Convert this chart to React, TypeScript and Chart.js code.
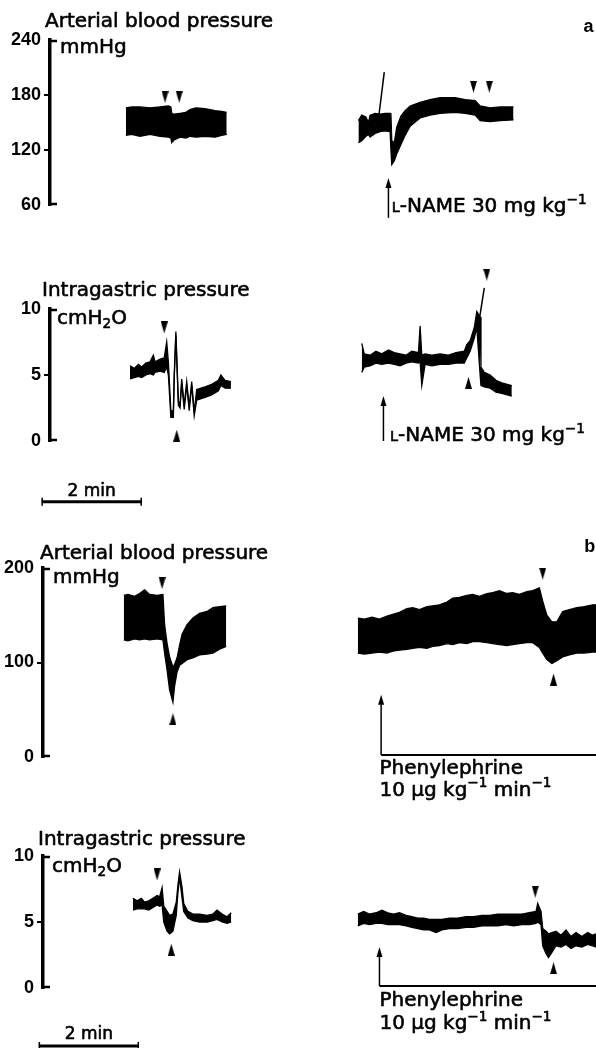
import React, { useEffect, useRef } from "react";
import { Chart, registerables } from "chart.js";

Chart.register(...registerables);

const TEXT_FONT = "'DejaVu Sans', 'Liberation Sans', sans-serif";
const TICK_FONT = "'Liberation Sans', Arial, sans-serif";

// ================= Panel a : arterial blood pressure (mmHg) vs time (s) =================
const A_BP_TICKS = [60, 120, 180, 240];
const A_BP_L_T = [91, 98, 108, 120, 132, 142, 145, 146, 149, 156, 163, 168, 175, 186, 198, 206, 212];
const A_BP_L_HI = [166, 167, 167, 166, 167, 168, 167, 160, 159, 160, 161, 164, 166, 165, 163, 162, 161];
const A_BP_L_LO = [136, 137, 135, 137, 135, 134, 133, 128, 131, 134, 133, 135, 134, 135, 134, 136, 137];
const A_BP_R_T = [370, 374, 379, 382, 384, 390, 396, 402, 408, 409, 410, 413, 416, 421, 426, 432, 444, 456, 468, 486, 498, 510, 516, 528, 540, 556];
const A_BP_R_HI = [152, 158, 156, 150, 158, 160, 159, 160, 160, 158, 130, 128, 145, 157, 163, 168, 172, 175, 177, 177, 175, 174, 168, 166, 167, 167];
const A_BP_R_LO = [128, 130, 135, 137, 134, 138, 140, 141, 140, 120, 104, 108, 116, 126, 136, 146, 155, 158, 160, 161, 160, 158, 152, 151, 152, 153];
const A_BP_SPIKE_T = [392, 401];
const A_BP_SPIKE_V = [139, 205];
const A_BP_DOWN_T = [138, 155, 508, 527];
const A_BP_DOWN_V = [178, 178, 189, 189];

// ================= Panel a : intragastric pressure (cmH2O) =================
const A_IG_TICKS = [0, 5, 10];
const A_IG_L_T = [96, 101, 106, 110, 115, 120, 124, 126, 132, 137, 140, 142, 145, 148, 149, 151, 154, 156, 158, 161, 164, 167, 170, 173, 176, 186, 194, 202, 205, 210, 217];
const A_IG_L_HI = [5.7, 5.5, 5.8, 5.6, 5.9, 6.0, 6.5, 6.0, 6.2, 6.3, 7.5, 6.0, 2.3, 2.3, 5.0, 8.3, 3.0, 2.8, 4.7, 2.7, 4.5, 2.6, 4.5, 2.2, 3.9, 4.1, 4.3, 4.6, 5.0, 4.6, 4.5];
const A_IG_L_LO = [4.7, 4.8, 4.9, 4.8, 5.0, 5.1, 5.0, 5.2, 5.3, 5.2, 5.6, 5.0, 1.8, 1.8, 4.7, 8.0, 2.7, 2.5, 4.4, 2.4, 4.2, 2.3, 4.2, 1.9, 3.1, 3.3, 3.5, 3.8, 4.2, 4.0, 4.0];
const A_IG_R_T = [374, 377, 384, 391, 398, 406, 413, 420, 427, 434, 442, 444, 446, 450, 458, 468, 478, 487, 497, 500, 504, 509, 512, 516, 517, 521, 528, 535, 542, 554];
const A_IG_R_HI = [7.4, 6.6, 6.5, 6.8, 6.6, 6.9, 6.7, 6.6, 6.5, 6.8, 6.7, 8.7, 6.5, 6.6, 6.5, 6.6, 6.5, 6.7, 6.8, 7.3, 7.6, 8.6, 9.8, 9.4, 5.6, 5.2, 5.0, 4.6, 4.4, 4.2];
const A_IG_R_LO = [5.2, 5.6, 5.7, 5.9, 5.8, 5.9, 5.8, 5.7, 5.9, 6.0, 5.9, 6.0, 4.2, 5.8, 5.7, 5.8, 5.8, 5.9, 5.9, 6.3, 6.8, 7.8, 8.6, 5.0, 4.2, 4.1, 4.0, 3.7, 3.6, 3.4];
const A_IG_SPIKE_T = [514, 521];
const A_IG_SPIKE_V = [8.8, 11.6];
const A_IG_DOWN_T = [137, 524];
const A_IG_DOWN_V = [8.6, 12.6];
const A_IG_UP_T = [152, 502];
const A_IG_UP_V = [0.4, 4.4];

// ================= Panel b : arterial blood pressure (mmHg) =================
const B_BP_TICKS = [0, 100, 200];
const B_BP_L_T = [97, 102, 110, 116, 122, 128, 137, 144, 146, 149, 152, 156, 158, 161, 164, 167, 173, 180, 188, 197, 204, 212, 220];
const B_BP_L_HI = [171, 172, 170, 173, 177, 172, 171, 172, 140, 120, 106, 95, 98, 105, 118, 130, 140, 147, 152, 154, 158, 159, 160];
const B_BP_L_LO = [124, 123, 125, 124, 125, 124, 125, 124, 110, 92, 71, 58, 75, 90, 97, 99, 103, 105, 108, 109, 110, 114, 117];
const B_BP_R_T = [378, 386, 395, 404, 413, 420, 428, 437, 444, 452, 461, 468, 476, 485, 492, 500, 509, 516, 524, 533, 540, 548, 557, 564, 572, 581, 588, 596, 600, 605, 611, 617, 624, 632, 641, 650, 660, 664];
const B_BP_R_HI = [147, 146, 148, 146, 149, 151, 153, 157, 158, 156, 159, 160, 161, 164, 168, 169, 171, 172, 170, 173, 174, 176, 173, 174, 172, 175, 176, 179, 165, 150, 143, 143, 154, 156, 158, 159, 161, 161];
const B_BP_R_LO = [110, 109, 110, 111, 110, 112, 113, 114, 115, 116, 115, 117, 118, 120, 119, 121, 120, 122, 122, 121, 120, 119, 118, 119, 120, 121, 121, 116, 110, 103, 99, 102, 106, 108, 110, 110, 111, 111];
const B_BP_DOWN_T = [143, 600];
const B_BP_DOWN_V = [184, 194];
const B_BP_UP_T = [156, 613];
const B_BP_UP_V = [40, 82];

// ================= Panel b : intragastric pressure (cmH2O) =================
const B_IG_TICKS = [0, 5, 10];
const B_IG_L_T = [108, 113, 118, 122, 127, 132, 137, 140, 143, 145, 149, 152, 156, 160, 162, 164, 167, 169, 174, 180, 188, 197, 204, 209, 215, 221, 226];
const B_IG_L_HI = [6.8, 6.6, 6.8, 6.5, 6.6, 6.8, 7.0, 6.9, 7.6, 6.2, 5.8, 5.5, 5.6, 6.5, 7.8, 8.8, 7.6, 6.4, 5.8, 5.6, 5.6, 5.5, 5.6, 5.9, 5.6, 5.4, 5.7];
const B_IG_L_LO = [5.9, 6.0, 6.0, 6.0, 5.9, 6.1, 6.3, 6.2, 6.3, 5.0, 4.3, 4.1, 4.3, 5.5, 7.2, 8.4, 6.8, 5.8, 5.3, 5.1, 5.0, 5.0, 5.1, 5.2, 5.0, 4.9, 5.0];
const B_IG_R_T = [378, 385, 392, 400, 407, 414, 421, 428, 436, 443, 450, 457, 464, 472, 479, 488, 498, 508, 517, 527, 536, 546, 556, 565, 575, 584, 592, 594, 598, 600, 604, 607, 611, 616, 622, 628, 634, 640, 647, 654, 660, 664];
const B_IG_R_HI = [5.6, 5.8, 5.6, 5.7, 5.9, 5.7, 5.6, 5.7, 5.5, 5.4, 5.3, 5.3, 5.2, 5.2, 5.2, 5.3, 5.3, 5.4, 5.4, 5.5, 5.5, 5.6, 5.6, 5.6, 5.6, 5.7, 5.8, 6.4, 5.8, 4.5, 4.3, 4.1, 4.2, 4.3, 4.0, 4.4, 3.9, 4.2, 3.9, 4.2, 4.0, 4.1];
const B_IG_R_LO = [4.7, 4.9, 4.8, 4.9, 4.9, 4.8, 4.8, 4.8, 4.7, 4.6, 4.5, 4.4, 4.4, 4.2, 4.4, 4.5, 4.5, 4.6, 4.6, 4.7, 4.7, 4.7, 4.8, 4.7, 4.8, 4.8, 4.9, 5.0, 4.8, 3.2, 2.6, 2.3, 2.7, 3.2, 3.1, 3.3, 3.0, 3.2, 3.1, 3.3, 3.2, 3.1];
const B_IG_DOWN_T = [137, 591];
const B_IG_DOWN_V = [8.6, 7.3];
const B_IG_UP_T = [154, 613];
const B_IG_UP_V = [2.9, 1.5];

// injection markers [time s, arrow bottom value, arrow top value]
const A_BP_INJ = [406, 46, 89.5];
const A_IG_INJ = [400, 0, 3.4];
const B_BP_INJ = [406, 2, 66];
const B_IG_INJ = [404, 0.15, 3.1];
const INFUSION_END = 664;
const SCALE_BAR_SECONDS = 120;

type Run = { t: string; s?: number; dy?: number };
const LNAME: Run[] = [{ t: "L", s: 0.72 }, { t: "-NAME 30 mg kg" }, { t: "\u22121", s: 0.68, dy: -0.42 }];
const PHE1: Run[] = [{ t: "Phenylephrine" }];
const PHE2: Run[] = [{ t: "10 \u00b5g kg" }, { t: "\u22121", s: 0.68, dy: -0.42 }, { t: " min" }, { t: "\u22121", s: 0.68, dy: -0.42 }];
const MMHG: Run[] = [{ t: "mmHg" }];
const CMH2O: Run[] = [{ t: "cmH" }, { t: "2", s: 0.68, dy: 0.22 }, { t: "O" }];

interface Label { t: number; v: number; runs: Run[]; size?: number; bold?: boolean; family?: string; align?: "left" | "center" }
interface Panel {
  top: number; height: number; axisX: number; xMax: number; yMin: number; yMax: number; ticks: number[];
  padTop: number; padBottom: number;
  title: string; titleOff: [number, number]; unit: Run[]; unitOff: [number, number];
  bands: { t: number[]; hi: number[]; lo: number[] }[];
  strokes: { t: number[]; v: number[] }[];
  down: { t: number[]; v: number[] }; up: { t: number[]; v: number[] };
  inj: number[]; infusion: boolean;
  labels: Label[];
  bar?: { t0: number; v: number; textV: number };
}

const PANELS: Panel[] = [
  {
    top: 0, height: 245, axisX: 50, xMax: 655, yMin: 60, yMax: 240, ticks: A_BP_TICKS, padTop: 40, padBottom: 40,
    title: "Arterial blood pressure", titleOff: [-5, -13], unit: MMHG, unitOff: [10, 13],
    bands: [{ t: A_BP_L_T, hi: A_BP_L_HI, lo: A_BP_L_LO }, { t: A_BP_R_T, hi: A_BP_R_HI, lo: A_BP_R_LO }],
    strokes: [{ t: A_BP_SPIKE_T, v: A_BP_SPIKE_V }],
    down: { t: A_BP_DOWN_T, v: A_BP_DOWN_V }, up: { t: [], v: [] },
    inj: A_BP_INJ, infusion: false,
    labels: [{ t: 410, v: 52.4, runs: LNAME }, { t: 640, v: 248.7, runs: [{ t: "a" }], size: 18, bold: true, family: TICK_FONT }],
  },
  {
    top: 250, height: 260, axisX: 50, xMax: 655, yMin: 0, yMax: 10, ticks: A_IG_TICKS, padTop: 59, padBottom: 69,
    title: "Intragastric pressure", titleOff: [-8, -13], unit: CMH2O, unitOff: [7, 15],
    bands: [{ t: A_IG_L_T, hi: A_IG_L_HI, lo: A_IG_L_LO }, { t: A_IG_R_T, hi: A_IG_R_HI, lo: A_IG_R_LO }],
    strokes: [{ t: A_IG_SPIKE_T, v: A_IG_SPIKE_V }],
    down: { t: A_IG_DOWN_T, v: A_IG_DOWN_V }, up: { t: A_IG_UP_T, v: A_IG_UP_V },
    inj: A_IG_INJ, infusion: false,
    labels: [{ t: 408, v: 0.0, runs: LNAME }],
    bar: { t0: -10, v: -4.6, textV: -4.2 },
  },
  {
    top: 515, height: 290, axisX: 43, xMax: 664, yMin: 0, yMax: 200, ticks: B_BP_TICKS, padTop: 53, padBottom: 48,
    title: "Arterial blood pressure", titleOff: [-3, -9], unit: MMHG, unitOff: [10, 15],
    bands: [{ t: B_BP_L_T, hi: B_BP_L_HI, lo: B_BP_L_LO }, { t: B_BP_R_T, hi: B_BP_R_HI, lo: B_BP_R_LO }],
    strokes: [],
    down: { t: B_BP_DOWN_T, v: B_BP_DOWN_V }, up: { t: B_BP_UP_T, v: B_BP_UP_V },
    inj: B_BP_INJ, infusion: true,
    labels: [{ t: 404, v: -18, runs: PHE1 }, { t: 404, v: -41, runs: PHE2 }, { t: 650, v: 217, runs: [{ t: "b" }], size: 18, bold: true, family: TICK_FONT }],
  },
  {
    top: 805, height: 243, axisX: 43, xMax: 664, yMin: 0, yMax: 10, ticks: B_IG_TICKS, padTop: 51, padBottom: 60,
    title: "Intragastric pressure", titleOff: [-5, -11], unit: CMH2O, unitOff: [9, 16],
    bands: [{ t: B_IG_L_T, hi: B_IG_L_HI, lo: B_IG_L_LO }, { t: B_IG_R_T, hi: B_IG_R_HI, lo: B_IG_R_LO }],
    strokes: [],
    down: { t: B_IG_DOWN_T, v: B_IG_DOWN_V }, up: { t: B_IG_UP_T, v: B_IG_UP_V },
    inj: B_IG_INJ, infusion: true,
    labels: [{ t: 404, v: -1.4, runs: PHE1 }, { t: 404, v: -3.1, runs: PHE2 }],
    bar: { t0: -5, v: -4.4, textV: -3.9 },
  },
];

function drawRuns(ctx: CanvasRenderingContext2D, x: number, y: number, runs: Run[], size: number, family: string, weight = "normal", align: "left" | "center" = "left") {
  ctx.textAlign = "left";
  ctx.textBaseline = "alphabetic";
  ctx.lineWidth = 0.6;
  ctx.lineJoin = "round";
  let total = 0;
  for (const r of runs) {
    ctx.font = `${weight} ${size * (r.s ?? 1)}px ${family}`;
    total += ctx.measureText(r.t).width;
  }
  let cx = align === "center" ? x - total / 2 : x;
  for (const r of runs) {
    ctx.font = `${weight} ${size * (r.s ?? 1)}px ${family}`;
    const yy = y + (r.dy ?? 0) * size;
    ctx.fillText(r.t, cx, yy);
    if (weight === "normal") ctx.strokeText(r.t, cx, yy);
    cx += ctx.measureText(r.t).width;
  }
}

function makeHead(down: boolean): HTMLCanvasElement {
  const c = document.createElement("canvas");
  c.width = 7;
  c.height = 12;
  const g = c.getContext("2d")!;
  g.fillStyle = "#000";
  g.beginPath();
  if (down) { g.moveTo(0, 0); g.lineTo(7, 0); g.lineTo(3.5, 12); }
  else { g.moveTo(3.5, 0); g.lineTo(7, 12); g.lineTo(0, 12); }
  g.closePath();
  g.fill();
  return c;
}

function buildConfig(p: Panel): any {
  const headDown = makeHead(true);
  const headUp = makeHead(false);
  const datasets: any[] = [];
  for (const b of p.bands) {
    datasets.push({ data: b.t.map((x, i) => ({ x, y: b.hi[i] })), borderColor: "#000", borderWidth: 1.3, pointRadius: 0, fill: false, tension: 0, clip: false });
    datasets.push({ data: b.t.map((x, i) => ({ x, y: b.lo[i] })), borderColor: "#000", borderWidth: 1.3, pointRadius: 0, fill: "-1", backgroundColor: "#000", tension: 0, clip: false });
  }
  for (const s of p.strokes) {
    datasets.push({ data: s.t.map((x, i) => ({ x, y: s.v[i] })), borderColor: "#000", borderWidth: 1.5, pointRadius: 0, fill: false, clip: false });
  }
  datasets.push({ data: p.down.t.map((x, i) => ({ x, y: p.down.v[i] })), showLine: false, pointStyle: headDown, pointRadius: 60, pointHoverRadius: 60, fill: false, clip: false });
  datasets.push({ data: p.up.t.map((x, i) => ({ x, y: p.up.v[i] })), showLine: false, pointStyle: headUp, pointRadius: 60, pointHoverRadius: 60, fill: false, clip: false });

  const decor = {
    id: "decor",
    afterDatasetsDraw(chart: any) {
      const { ctx, chartArea: ca } = chart;
      const xs = chart.scales.x, ys = chart.scales.y;
      ctx.save();
      ctx.fillStyle = "#000";
      ctx.strokeStyle = "#000";
      // axis end serifs
      ctx.lineWidth = 2.5;
      ctx.beginPath();
      ctx.moveTo(ca.left, ca.top + 1); ctx.lineTo(ca.left + 7, ca.top + 1);
      ctx.moveTo(ca.left, ca.bottom - 1); ctx.lineTo(ca.left + 7, ca.bottom - 1);
      ctx.stroke();
      // title and unit
      drawRuns(ctx, ca.left + p.titleOff[0], ca.top + p.titleOff[1], [{ t: p.title }], 20, TEXT_FONT);
      drawRuns(ctx, ca.left + p.unitOff[0], ca.top + p.unitOff[1], p.unit, 20, TEXT_FONT);
      // injection arrow
      const ax = xs.getPixelForValue(p.inj[0]);
      const yb = ys.getPixelForValue(p.inj[1]);
      const yt = ys.getPixelForValue(p.inj[2]);
      ctx.lineWidth = 1.5;
      ctx.beginPath(); ctx.moveTo(ax, yb); ctx.lineTo(ax, yt + 6); ctx.stroke();
      ctx.beginPath(); ctx.moveTo(ax, yt); ctx.lineTo(ax - 3, yt + 10); ctx.lineTo(ax + 3, yt + 10); ctx.closePath(); ctx.fill();
      if (p.infusion) {
        ctx.lineWidth = 2;
        ctx.beginPath(); ctx.moveTo(ax, yb); ctx.lineTo(xs.getPixelForValue(INFUSION_END), yb); ctx.stroke();
      }
      // labels
      for (const l of p.labels) {
        drawRuns(ctx, xs.getPixelForValue(l.t), ys.getPixelForValue(l.v), l.runs, l.size ?? 20, l.family ?? TEXT_FONT, l.bold ? "bold" : "normal", l.align ?? "left");
      }
      // time scale bar
      if (p.bar) {
        const x0 = xs.getPixelForValue(p.bar.t0);
        const x1 = xs.getPixelForValue(p.bar.t0 + SCALE_BAR_SECONDS);
        const by = ys.getPixelForValue(p.bar.v);
        ctx.lineWidth = 3;
        ctx.beginPath(); ctx.moveTo(x0, by); ctx.lineTo(x1, by); ctx.stroke();
        ctx.lineWidth = 1.5;
        ctx.beginPath();
        ctx.moveTo(x0 + 0.5, by - 4); ctx.lineTo(x0 + 0.5, by + 4);
        ctx.moveTo(x1 - 0.5, by - 4); ctx.lineTo(x1 - 0.5, by + 4);
        ctx.stroke();
        drawRuns(ctx, (x0 + x1) / 2, ys.getPixelForValue(p.bar.textV), [{ t: "2 min" }], 17, TEXT_FONT, "normal", "center");
      }
      ctx.restore();
    },
  };

  return {
    type: "line",
    data: { datasets },
    options: {
      animation: false,
      responsive: false,
      devicePixelRatio: 1,
      events: [],
      parsing: true,
      layout: { autoPadding: false, padding: { left: 0, right: 0, top: p.padTop, bottom: p.padBottom } },
      plugins: { legend: { display: false }, tooltip: { enabled: false }, title: { display: false } },
      scales: {
        x: { type: "linear", display: false, min: 0, max: p.xMax },
        y: {
          type: "linear",
          min: p.yMin,
          max: p.yMax,
          afterBuildTicks: (s: any) => { s.ticks = p.ticks.map((v) => ({ value: v })); },
          afterFit: (s: any) => { s.width = p.axisX; },
          ticks: { color: "#000", padding: 3, autoSkip: false, font: { family: TICK_FONT, size: 18, weight: "bold" } },
          grid: {
            drawOnChartArea: false,
            drawTicks: true,
            tickLength: 6,
            lineWidth: 2,
            color: (c: any) => (c.tick && (c.tick.value === p.yMin || c.tick.value === p.yMax) ? "rgba(0,0,0,0)" : "#000"),
          },
          border: { display: true, color: "#000", width: 3.5 },
        },
      },
    },
    plugins: [decor],
  };
}

function PanelChart({ p }: { p: Panel }) {
  const ref = useRef<HTMLCanvasElement>(null);
  useEffect(() => {
    if (!ref.current) return;
    const chart = new Chart(ref.current, buildConfig(p));
    return () => chart.destroy();
  }, [p]);
  return (
    <div style={{ position: "absolute", left: 0, top: p.top, width: 596, height: p.height }}>
      <canvas ref={ref} width={596} height={p.height} style={{ width: 596, height: p.height, display: "block" }} />
    </div>
  );
}

export default function App() {
  return (
    <div style={{ position: "absolute", left: 0, top: 0, width: 596, height: 1048, background: "#fff", overflow: "hidden" }}>
      {PANELS.map((p, i) => (
        <PanelChart key={i} p={p} />
      ))}
    </div>
  );
}
